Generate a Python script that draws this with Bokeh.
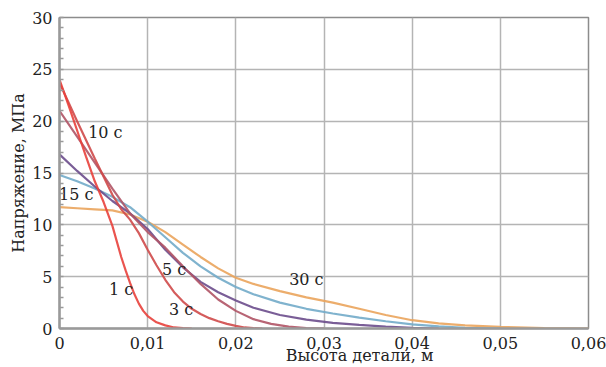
from bokeh.plotting import figure
from bokeh.models import FixedTicker
from bokeh.embed import file_html
from bokeh.resources import INLINE
from bokeh.core.properties import value

# ---- data ----
x_ticks = [0, 0.01, 0.02, 0.03, 0.04, 0.05, 0.06]
x_tick_labels = ["0", "0,01", "0,02", "0,03", "0,04", "0,05", "0,06"]
y_ticks = [0, 5, 10, 15, 20, 25, 30]

x_1s = [0, .001, .002, .003, .004, .005, .006, .007, .0075, .008, .0085, .009, .0095, .010, .011, .012, .013, .014, .015]
y_1s = [24, 21.6, 19.1, 16.6, 14.2, 12.2, 9.9, 6.9, 5.6, 4.4, 3.3, 2.4, 1.7, 1.2, 0.6, 0.3, 0.1, 0.03, 0]

x_3s = [0, .002, .004, .006, .007, .008, .009, .010, .011, .012, .013, .014, .015, .016, .017, .018, .019, .020, .021, .022, .023]
y_3s = [23.7, 20.0, 16.4, 12.9, 11.5, 10.5, 9.2, 7.6, 6.1, 4.7, 3.5, 2.6, 1.9, 1.4, 1.0, 0.7, 0.45, 0.25, 0.1, 0.03, 0]

x_5s = [0, .002, .004, .006, .008, .010, .012, .014, .016, .018, .020, .022, .024, .026, .028, .030]
y_5s = [21.0, 18.5, 16.0, 13.5, 11.1, 9.3, 7.8, 6.0, 4.3, 2.8, 1.7, 0.9, 0.45, 0.18, 0.05, 0]

x_10s = [0, .002, .004, .006, .008, .010, .012, .014, .016, .018, .020, .022, .025, .028, .031, .034, .037, .040, .043]
y_10s = [16.8, 15.2, 13.7, 12.3, 11.1, 9.6, 7.6, 5.9, 4.5, 3.5, 2.7, 2.0, 1.3, 0.85, 0.55, 0.35, 0.18, 0.07, 0]

x_15s = [0, .002, .004, .006, .008, .010, .012, .014, .016, .018, .020, .022, .025, .028, .031, .034, .037, .040, .043, .046, .050]
y_15s = [14.8, 14.2, 13.5, 12.7, 11.7, 10.3, 8.8, 7.3, 6.0, 4.9, 4.0, 3.3, 2.5, 1.9, 1.45, 1.05, 0.7, 0.4, 0.2, 0.07, 0]

x_30s = [0, .002, .004, .006, .008, .010, .012, .014, .016, .018, .020, .022, .025, .028, .031, .034, .037, .040, .043, .046, .050, .055, .060]
y_30s = [11.7, 11.6, 11.5, 11.4, 11.0, 10.3, 9.3, 8.1, 6.9, 5.8, 4.9, 4.3, 3.6, 3.0, 2.5, 1.9, 1.3, 0.8, 0.5, 0.3, 0.15, 0.05, 0]

label_text = ["10 с", "15 с", "5 с", "1 с", "3 с", "30 с"]
label_x = [0.0052, 0.0019, 0.0130, 0.0070, 0.0138, 0.0280]
label_y = [18.9, 12.9, 5.7, 3.75, 1.8, 4.7]

series = [
    (x_30s, y_30s, "#eaa45c"),
    (x_15s, y_15s, "#72abc9"),
    (x_10s, y_10s, "#6b4d8c"),
    (x_5s, y_5s, "#b05466"),
    (x_3s, y_3s, "#cf4a4a"),
    (x_1s, y_1s, "#e8413c"),
]

FONT = "DejaVu Serif"
NBSP = "\u00a0"

p = figure(width=606, height=367, x_range=(0, 0.06), y_range=(0, 30),
           output_backend="svg", toolbar_location=None,
           min_border_left=59, min_border_right=18, min_border_top=17, min_border_bottom=39)

p.background_fill_color = "white"
p.border_fill_color = "white"
p.outline_line_color = "#8c8c8c"
p.outline_line_width = 1.5

p.xgrid.ticker = FixedTicker(ticks=x_ticks)
p.ygrid.ticker = FixedTicker(ticks=y_ticks)
p.grid.grid_line_color = "#b4b4b4"
p.grid.grid_line_width = 1.5

p.xaxis.ticker = FixedTicker(ticks=x_ticks)
p.xaxis.major_label_overrides = {t: l for t, l in zip(x_ticks, x_tick_labels)}
p.yaxis.ticker = FixedTicker(ticks=y_ticks, minor_ticks=list(range(0, 31)))

for ax in (p.xaxis[0], p.yaxis[0]):
    ax.axis_line_color = "#9a9a9a"
    ax.axis_line_width = 2.5
    ax.major_tick_line_color = None
    ax.major_tick_in = 0
    ax.major_tick_out = 0
    ax.major_label_text_font = FONT
    ax.major_label_text_font_size = "16px"
    ax.major_label_text_color = "#222222"
    ax.axis_label_text_font = FONT
    ax.axis_label_text_font_size = "16px"
    ax.axis_label_text_font_style = "normal"
    ax.axis_label_text_color = "#222222"

p.yaxis.major_label_standoff = 7
p.xaxis.major_label_standoff = 8

p.xaxis.minor_tick_line_color = None
p.xaxis.minor_tick_in = 0
p.xaxis.minor_tick_out = 0
p.yaxis.minor_tick_in = 4
p.yaxis.minor_tick_out = 0
p.yaxis.minor_tick_line_color = "#9a9a9a"
p.yaxis.minor_tick_line_width = 1.5

p.yaxis.axis_label = "Напряжение, МПа"
p.yaxis.axis_label_standoff = 1

p.xaxis.axis_label = NBSP * 14 + "Высота детали, м"
p.xaxis.axis_label_standoff = -6

for xs, ys, c in series:
    p.line(xs, ys, line_color=c, line_width=2.2, line_alpha=0.9)

p.text(x=label_x, y=label_y, text=label_text, text_font=value(FONT),
       text_font_size="16px", text_color="#222222",
       text_align="center", text_baseline="middle")

open("out.html", "w").write(file_html(p, INLINE))
